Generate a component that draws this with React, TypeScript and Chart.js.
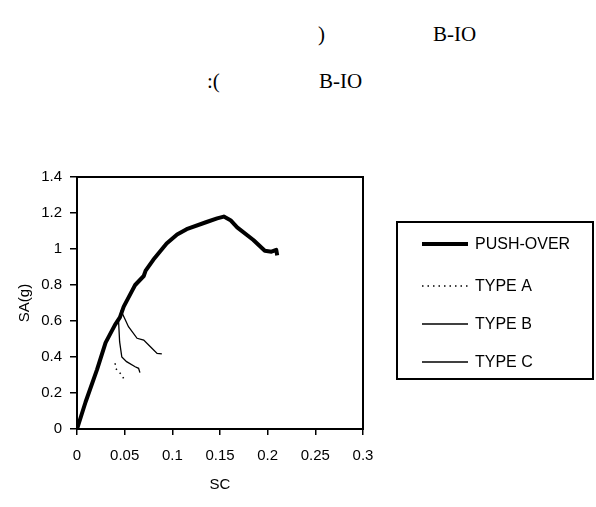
import React, { useEffect, useRef } from "react";
import { Chart, registerables } from "chart.js";

Chart.register(...registerables);

// ---- data ----
const pushoverX = [0, 0.009, 0.021, 0.03, 0.04, 0.045, 0.049, 0.058, 0.061, 0.07, 0.072, 0.08, 0.094, 0.105, 0.115, 0.136, 0.147, 0.154, 0.161, 0.168, 0.185, 0.197, 0.204, 0.209, 0.21];
const pushoverY = [0, 0.15, 0.33, 0.48, 0.58, 0.62, 0.68, 0.77, 0.8, 0.85, 0.88, 0.94, 1.03, 1.08, 1.11, 1.15, 1.17, 1.18, 1.16, 1.12, 1.05, 0.99, 0.985, 0.995, 0.965];

const typeAX = [0.04, 0.0405, 0.047, 0.0506];
const typeAY = [0.365, 0.337, 0.3, 0.263];

const typeBX = [0.0436, 0.0447, 0.047, 0.052, 0.061, 0.0646, 0.066];
const typeBY = [0.6, 0.485, 0.4, 0.374, 0.346, 0.337, 0.313];

const typeCX = [0.046, 0.054, 0.063, 0.07, 0.077, 0.084, 0.089];
const typeCY = [0.66, 0.568, 0.504, 0.494, 0.457, 0.42, 0.417];

const seriesNames = ["PUSH-OVER", "TYPE A", "TYPE B", "TYPE C"];

const xTicks = [0, 0.05, 0.1, 0.15, 0.2, 0.25, 0.3];
const xTickLabels = ["0", "0.05", "0.1", "0.15", "0.2", "0.25", "0.3"];
const yTicks = [0, 0.2, 0.4, 0.6, 0.8, 1, 1.2, 1.4];
const yTickLabels = ["0", "0.2", "0.4", "0.6", "0.8", "1", "1.2", "1.4"];

const xTitle = "SC";
const yTitle = "SA(g)";

const headLine1 = [")", "B-IO"];
const headLine2 = [":(", "B-IO"];

const SANS = "'Liberation Sans', Arial, sans-serif";

export default function App() {
  const ref = useRef<HTMLCanvasElement>(null);

  useEffect(() => {
    const canvas = ref.current;
    if (!canvas) return;
    const toPts = (xs: number[], ys: number[]) => xs.map((x, i) => ({ x, y: ys[i] }));

    const framePlugin = {
      id: "frame",
      afterDatasetsDraw(chart: any) {
        const { ctx, chartArea: a } = chart;
        ctx.save();
        ctx.strokeStyle = "#000";
        ctx.lineWidth = 2;
        ctx.strokeRect(a.left, a.top, a.right - a.left, a.bottom - a.top);
        ctx.restore();
      },
    };

    const rowY = [244, 286, 324, 362];

    const legendPlugin = {
      id: "boxLegend",
      afterDraw(chart: any) {
        const { ctx } = chart;
        const bx = 397, by = 222, bw = 196, bh = 157;
        ctx.save();
        ctx.strokeStyle = "#000";
        ctx.lineWidth = 2;
        ctx.strokeRect(bx, by, bw, bh);
        chart.data.datasets.forEach((ds: any, i: number) => {
          const y = rowY[i];
          ctx.beginPath();
          ctx.strokeStyle = ds.borderColor;
          ctx.lineWidth = ds.borderWidth;
          ctx.setLineDash(ds.borderDash || []);
          ctx.moveTo(bx + 25, y);
          ctx.lineTo(bx + 71, y);
          ctx.stroke();
          ctx.setLineDash([]);
          ctx.fillStyle = "#000";
          ctx.font = `16px ${SANS}`;
          ctx.textBaseline = "middle";
          ctx.textAlign = "left";
          ctx.fillText(ds.label, bx + 78, y + 1);
        });
        ctx.restore();
      },
    };

    const tickFont = { family: SANS, size: 15 };

    const chart = new Chart(canvas, {
      type: "line",
      data: {
        datasets: [
          { label: seriesNames[0], data: toPts(pushoverX, pushoverY), borderColor: "#000", borderWidth: 4, pointRadius: 0, tension: 0, borderJoinStyle: "round" },
          { label: seriesNames[1], data: toPts(typeAX, typeAY), borderColor: "#000", borderWidth: 1.5, borderDash: [1.5, 4], pointRadius: 0, tension: 0 },
          { label: seriesNames[2], data: toPts(typeBX, typeBY), borderColor: "#000", borderWidth: 1.3, pointRadius: 0, tension: 0 },
          { label: seriesNames[3], data: toPts(typeCX, typeCY), borderColor: "#000", borderWidth: 1.3, pointRadius: 0, tension: 0 },
        ],
      } as any,
      options: {
        responsive: false,
        animation: false,
        layout: { padding: { left: 0, top: 177, right: 233, bottom: 0 } },
        plugins: { legend: { display: false }, tooltip: { enabled: false } },
        scales: {
          x: {
            type: "linear",
            min: 0,
            max: 0.3,
            afterFit: (s: any) => { s.height = 78; },
            afterBuildTicks: (s: any) => { s.ticks = xTicks.map((v) => ({ value: v })); },
            ticks: {
              callback: (_v: any, i: number) => xTickLabels[i],
              color: "#000",
              font: tickFont,
              padding: 12,
              maxRotation: 0,
              autoSkip: false,
            },
            grid: { drawOnChartArea: false, drawTicks: true, tickLength: 6, color: "#000", lineWidth: 1.5 },
            border: { display: false },
            title: { display: true, text: xTitle, color: "#000", font: { family: SANS, size: 15 }, padding: { top: 0, bottom: 13 } },
          },
          y: {
            type: "linear",
            min: 0,
            max: 1.4,
            afterFit: (s: any) => { s.width = 77; },
            afterBuildTicks: (s: any) => { s.ticks = yTicks.map((v) => ({ value: v })); },
            ticks: {
              callback: (_v: any, i: number) => yTickLabels[i],
              color: "#000",
              font: tickFont,
              padding: 8,
              autoSkip: false,
            },
            grid: { drawOnChartArea: false, drawTicks: true, tickLength: 7, color: "#000", lineWidth: 1.5 },
            border: { display: false },
            title: { display: true, text: yTitle, color: "#000", font: { family: SANS, size: 15 }, padding: { top: 16, bottom: 0 } },
          },
        },
      } as any,
      plugins: [framePlugin, legendPlugin],
    });
    return () => chart.destroy();
  }, []);

  const headStyle: React.CSSProperties = {
    position: "absolute",
    fontFamily: "'Liberation Serif', 'Times New Roman', serif",
    fontSize: 21,
    lineHeight: "21px",
    color: "#000",
    whiteSpace: "nowrap",
  };

  return (
    <div style={{ position: "absolute", left: 0, top: 0, width: 596, height: 507, background: "#fff" }}>
      <span style={{ ...headStyle, left: 318, top: 24 }}>{headLine1[0]}</span>
      <span style={{ ...headStyle, left: 433, top: 24 }}>{headLine1[1]}</span>
      <span style={{ ...headStyle, left: 207, top: 71 }}>{headLine2[0]}</span>
      <span style={{ ...headStyle, left: 319, top: 71 }}>{headLine2[1]}</span>
      <canvas ref={ref} width={596} height={507} style={{ position: "absolute", left: 0, top: 0 }} />
    </div>
  );
}
